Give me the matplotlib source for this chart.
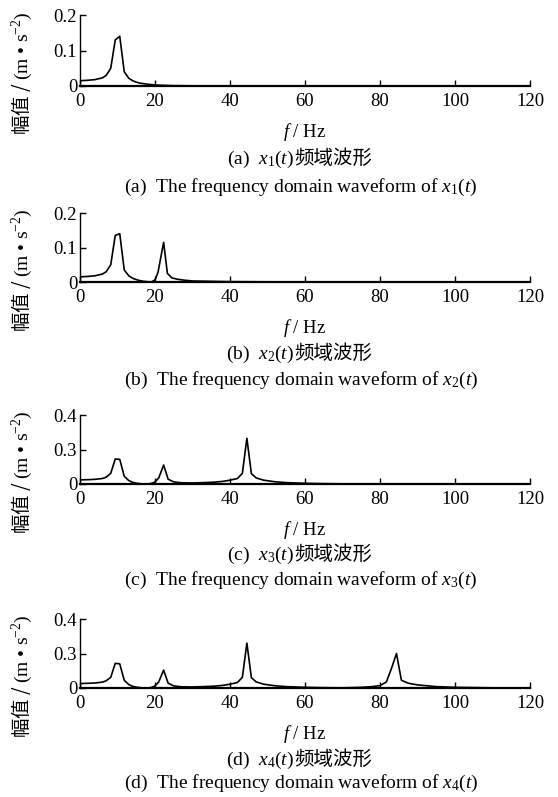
import numpy as np
import matplotlib
matplotlib.use("Agg")
import matplotlib.pyplot as plt

plt.rcParams['font.family'] = ['Liberation Serif', 'Noto Sans CJK SC']
plt.rcParams['mathtext.fontset'] = 'custom'
plt.rcParams['mathtext.rm'] = 'Liberation Serif'
plt.rcParams['mathtext.it'] = 'Liberation Serif:italic'

# ---- data ----
f1 = [0, 2, 4, 6, 7, 8.2, 9.4, 10.6, 11.8, 13, 14, 15, 16, 18, 20, 22, 25, 30, 35, 40, 60, 120]
a1 = [0.015, 0.016, 0.018, 0.023, 0.03, 0.05, 0.13, 0.14, 0.04, 0.022, 0.015, 0.011, 0.008,
      0.005, 0.003, 0.002, 0.001, 0.0005, 0.0003, 0.0002, 0.0001, 0.0]

f2 = [0, 2, 4, 6, 7, 8.2, 9.4, 10.6, 11.8, 13, 14, 15, 16, 17, 18, 19, 20, 20.8, 22.3, 23.3,
      24.5, 26, 28, 30, 35, 40, 50, 120]
a2 = [0.015, 0.016, 0.018, 0.023, 0.03, 0.05, 0.135, 0.14, 0.035, 0.018, 0.011, 0.007, 0.004,
      0.002, 0.001, 0.0, 0.006, 0.028, 0.115, 0.025, 0.012, 0.008, 0.005, 0.003, 0.002, 0.001,
      0.0005, 0.0]

f3 = [0, 2, 4, 6, 7, 8.2, 9.4, 10.6, 11.8, 13, 14, 15, 16, 17, 18, 19, 20, 21, 22.3, 23.5,
      25, 27, 30, 33, 36, 38, 40, 42, 43.3, 44.5, 45.7, 47, 49, 52, 55, 60, 65, 70, 80, 120]
a3 = [0.024, 0.025, 0.027, 0.032, 0.04, 0.062, 0.145, 0.143, 0.045, 0.02, 0.01, 0.005, 0.002,
      0.0, 0.0, 0.003, 0.012, 0.035, 0.11, 0.028, 0.012, 0.007, 0.006, 0.008, 0.011, 0.015,
      0.022, 0.032, 0.062, 0.265, 0.06, 0.035, 0.022, 0.013, 0.008, 0.004, 0.002, 0.001, 0.0, 0.0]

f4 = [0, 2, 4, 6, 7, 8.2, 9.4, 10.6, 11.8, 13, 14, 15, 16, 17, 18, 19, 20, 21, 22.3, 23.5,
      25, 27, 30, 33, 36, 38, 40, 42, 43.3, 44.5, 45.7, 47, 49, 52, 55, 60, 65, 70, 75, 78,
      80, 81.7, 83, 84.4, 85.7, 87.5, 90, 95, 100, 110, 120]
a4 = [0.026, 0.027, 0.029, 0.034, 0.042, 0.062, 0.143, 0.14, 0.045, 0.02, 0.01, 0.005, 0.002,
      0.0, 0.0, 0.003, 0.012, 0.035, 0.104, 0.028, 0.012, 0.007, 0.006, 0.008, 0.011, 0.015,
      0.022, 0.032, 0.062, 0.26, 0.06, 0.035, 0.022, 0.013, 0.008, 0.004, 0.002, 0.001, 0.004,
      0.008, 0.014, 0.035, 0.11, 0.2, 0.045, 0.028, 0.018, 0.008, 0.004, 0.001, 0.0]

series = [(f1, a1), (f2, a2), (f3, a3), (f4, a4)]
yticks = [[0, 0.1, 0.2], [0, 0.1, 0.2], [0, 0.2, 0.4], [0, 0.2, 0.4]]
yticklabels = [['0', '0.1', '0.2'], ['0', '0.1', '0.2'], ['0', '0.3', '0.4'], ['0', '0.3', '0.4']]
xticks = [0, 20, 40, 60, 80, 100, 120]
letters = ['a', 'b', 'c', 'd']

W, H = 558, 797
fig = plt.figure(figsize=(W / 100, H / 100), dpi=100)

# axes boxes in pixels from top: (top, bottom), and caption offsets below the axis
boxes = [(15, 86), (213, 282), (415, 484), (619, 688)]
cap1_off = [78, 77, 76, 77]
cap2_off = [101, 98, 96, 95]
left_px, right_px = 80, 530

for i, ((f, a), (top, bot)) in enumerate(zip(series, boxes)):
    ax = fig.add_axes([left_px / W, 1 - bot / H, (right_px - left_px) / W, (bot - top) / H])
    ax.plot(f, a, color='k', lw=1.2)
    ax.set_xlim(0, 120)
    ax.set_ylim(0, yticks[i][-1])
    ax.set_xticks(xticks)
    ax.set_yticks(yticks[i])
    ax.set_yticklabels(yticklabels[i])
    ax.spines['top'].set_visible(False)
    ax.spines['right'].set_visible(False)
    ax.spines['left'].set_linewidth(1.0)
    ax.spines['bottom'].set_linewidth(1.6)
    ax.tick_params(direction='in', length=4, width=1.0, labelsize=13.5)
    ax.tick_params(axis='x', pad=5)
    ax.tick_params(axis='y', pad=2)
    ax.set_xlabel(r'$f$ / Hz', fontsize=13.5, labelpad=8)

    cy = 1 - ((top + bot) / 2 + 23) / H
    fig.text(22 / W, cy, r'幅值 / $\mathrm{(m\ •\ s^{-2})}$', rotation=90,
             ha='center', va='center', fontsize=14, family='Noto Sans CJK SC')

    # caption line 1: latin/math part then Chinese part
    y1 = 1 - (bot + cap1_off[i]) / H
    fig.text(294 / W, y1, r'(%s)  $x_%d(t)$' % (letters[i], i + 1),
             ha='right', va='baseline', fontsize=14)
    fig.text(294 / W, y1, '频域波形', ha='left', va='baseline', fontsize=14,
             family='Noto Sans CJK SC')
    fig.text(301 / W, 1 - (bot + cap2_off[i]) / H,
             r'(%s)  The frequency domain waveform of $x_%d(t)$' % (letters[i], i + 1),
             ha='center', va='center', fontsize=14)

fig.savefig('out.png', dpi=100)
